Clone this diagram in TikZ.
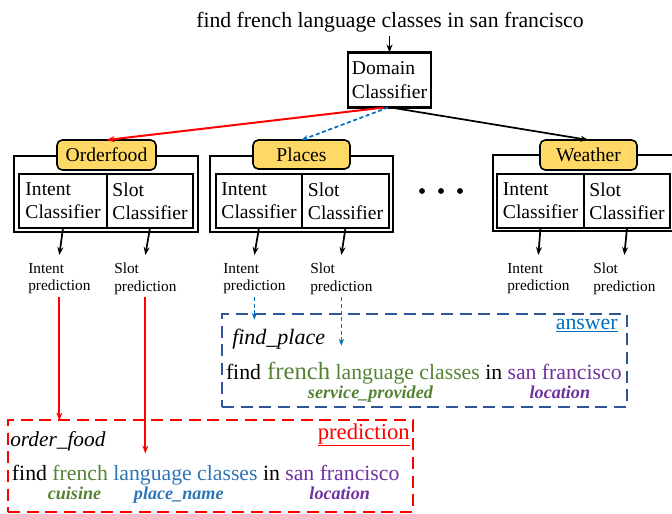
\documentclass[tikz,border=0pt]{standalone}
\usepackage{fontspec}
\setmainfont{Liberation Serif}
\usetikzlibrary{arrows.meta,calc}
\definecolor{cgreen}{HTML}{548235}
\definecolor{cblue}{HTML}{2E75B6}
\definecolor{cpurple}{HTML}{7030A0}
\definecolor{cyellow}{HTML}{FFD966}
\definecolor{cbox}{HTML}{2F5597}
\definecolor{cans}{HTML}{0070C0}
\definecolor{cred}{HTML}{FF0000}
\newcommand\fsz[2]{\fontsize{#1}{#2}\selectfont}
\begin{document}
\begin{tikzpicture}[x=0.75pt,y=-0.75pt,
  bx/.style 2 args={minimum width=#1*0.75pt, minimum height=#2*0.75pt},
  box/.style={draw, line width=1.5pt, inner sep=0pt, outer sep=0pt, align=left, font=\fsz{14.7}{17.3}},
  outerbox/.style={draw, line width=1.5pt, inner sep=0pt, outer sep=0pt},
  lab/.style={draw, line width=1.2pt, fill=cyellow, rounded corners=4pt, inner sep=0pt, outer sep=0pt, font=\fsz{14.7}{17}},
  pred/.style={align=left, inner sep=0pt, font=\fsz{11.5}{13}},
  arr/.style={line width=1.3pt, -{Stealth[length=6pt,width=4.5pt]}},
  redarr/.style={draw=cred, line width=1.5pt, -{Stealth[length=6pt,width=4.5pt]}},
  bluearr/.style={draw=cans, line width=1.1pt, dash pattern=on 3pt off 2pt, -{Stealth[length=5pt,width=4pt]}},
  word/.style={anchor=base west, inner sep=0pt, outer sep=0pt, font=\fsz{16.3}{19}},
  tag/.style={anchor=base, inner sep=0pt, font=\fsz{13.6}{16}\bfseries\itshape},
]
\useasboundingbox (0,0) rectangle (672,514);

% query and domain classifier
\node[anchor=base, inner sep=0pt, font=\fsz{16.3}{19}] (q) at (390,27) {find french language classes in san francisco};
\node[box, bx={83}{55}, line width=1.7pt, font=\fsz{14.7}{18}] (dom) at (389.5,80) {Domain\\Classifier};
\draw[arr] ($(q.south -| dom.north)+(0,4)$) -- (dom.north);

% Orderfood
\node[outerbox, bx={184}{76}] (og) at (106,194) {};
\node[lab, bx={99}{30}] (of) at (106.5,155) {Orderfood};
\node[box, bx={88}{54}] (oi) at (63,201) {Intent\\Classifier};
\node[box, bx={86}{54}] (os) at (150,201) {Slot\\Classifier};
% Places
\node[outerbox, bx={183}{76}] (pg) at (301.5,194) {};
\node[lab, bx={97}{29}] (pl) at (301.5,154.5) {Places};
\node[box, bx={86}{54}] (pi) at (259,201) {Intent\\Classifier};
\node[box, bx={87}{54}] (ps) at (345.5,201) {Slot\\Classifier};
% Weather
\node[outerbox, bx={183}{76}] (wg) at (584.5,193) {};
\node[lab, bx={97}{30}] (wl) at (588.5,155) {Weather};
\node[box, bx={87}{54}] (wi) at (540.5,201) {Intent\\Classifier};
\node[box, bx={86}{54}] (ws) at (627,201) {Slot\\Classifier};

% dots
\fill (422,191) circle[radius=2.2pt];
\fill (441,191) circle[radius=2.2pt];
\fill (460,191) circle[radius=2.2pt];

% domain arrows
\draw[redarr] ([xshift=-4pt]dom.south) -- (of.north);
\draw[bluearr, line width=1.3pt] ([xshift=-1pt]dom.south) -- (pl.north);
\draw[arr] ([xshift=1pt]dom.south) -- (wl.north);

% prediction labels
\node[pred, anchor=north west] (oip) at (28,263) {Intent\\prediction};
\node[pred, anchor=north west] (osp) at (114,263) {Slot\\prediction};
\node[pred, anchor=north west] (pip) at (223,263) {Intent\\prediction};
\node[pred, anchor=north west] (psp) at (310,263) {Slot\\prediction};
\node[pred, anchor=north west] (wip) at (507,263) {Intent\\prediction};
\node[pred, anchor=north west] (wsp) at (593,263) {Slot\\prediction};

\draw[arr] (oi.south) -- ([yshift=6pt]oip.north);
\draw[arr] (os.south) -- ([yshift=6pt]osp.north);
\draw[arr] (pi.south) -- ([yshift=6pt]pip.north);
\draw[arr] (ps.south) -- ([yshift=6pt]psp.north);
\draw[arr] (wi.south) -- ([yshift=6pt]wip.north);
\draw[arr] (ws.south) -- ([yshift=6pt]wsp.north);

% answer box
\node[draw=cbox, line width=2.2pt, dash pattern=on 9pt off 5pt, bx={405}{93}, inner sep=0pt] (bb) at (424.5,360.5) {};
\node[anchor=base east, inner sep=0pt, text=cans, font=\fsz{16.4}{19}] (ans) at (618,329) {\underline{answer}};
\node[anchor=base west, inner sep=0pt, font=\fsz{16.5}{19}\itshape] (fp) at (232,344) {find\_place};
\node[word] (b1) at (226,379) {find};
\node[word, text=cgreen, font=\fsz{18.5}{21}] (b2) at (b1.base east) {\ french};
\node[word, text=cgreen] (b3) at (b2.base east) {\ language classes};
\node[word] (b4) at (b3.base east) {\ in};
\node[word, text=cpurple] (b5) at (b4.base east) {\ san francisco};
\node[tag, text=cgreen] (bt1) at ($(b2.base west)!0.5!(b3.base east)+(0,19)$) {service\_provided};
\node[tag, text=cpurple] (bt2) at ($(b5.base)+(-2,19)$) {location};

% prediction box
\node[draw=cred, line width=2.2pt, dash pattern=on 9pt off 5pt, bx={405}{92}, inner sep=0pt] (rb) at (210.5,466) {};
\node[anchor=base east, inner sep=0pt, text=cred, font=\fsz{17}{20}] (prd) at (410,439) {\underline{prediction}};
\node[anchor=base west, inner sep=0pt, font=\fsz{16}{19}\itshape] (ofd) at (10,446) {order\_food};
\node[word] (r1) at (12,480) {find};
\node[word, text=cgreen] (r2) at (r1.base east) {\ french};
\node[word, text=cblue] (r3) at (r2.base east) {\ language classes};
\node[word] (r4) at (r3.base east) {\ in};
\node[word, text=cpurple] (r5) at (r4.base east) {\ san francisco};
\node[tag, text=cgreen] (rt1) at ($(r2.base)+(-3,19)$) {cuisine};
\node[tag, text=cblue] (rt2) at ($(r3.base)+(-4,19)$) {place\_name};
\node[tag, text=cpurple] (rt3) at ($(r5.base)+(0,19)$) {location};

% prediction connectors
\draw[redarr] ([yshift=-2pt]oip.south) -- ($(oip.south |- rb.north)+(0,2)$);
\draw[redarr] ([yshift=-2pt]osp.south) -- ($(osp.south |- rb.north)+(0,35)$);
\draw[bluearr] ([yshift=-2pt]pip.south) -- ($(pip.south |- bb.north)+(0,7)$);
\draw[bluearr] ([yshift=-2pt]psp.south) -- ($(psp.south |- bb.north)+(0,33)$);
\end{tikzpicture}
\end{document}
